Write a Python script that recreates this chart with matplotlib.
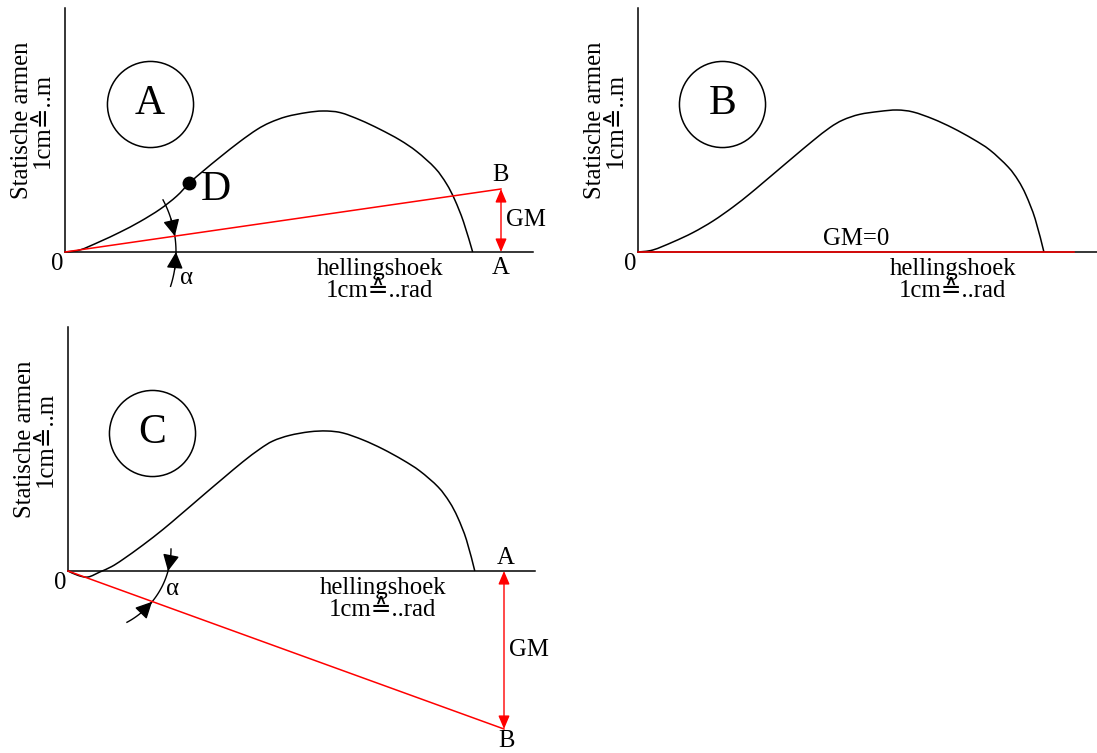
import numpy as np
import matplotlib
matplotlib.use('Agg')
import matplotlib.pyplot as plt
from matplotlib.path import Path
from matplotlib.patches import PathPatch

plt.rcParams['font.family'] = ['Liberation Serif', 'DejaVu Sans']

W, H = 1097, 753
SX, SY = 436.0, 200.0   # pixels per rad (x) and per m (y)
FS = 17.8

# GZ curves: heel angle (rad) and righting arm (m)
phi_a = [0, 0.034, 0.080, 0.126, 0.172, 0.218, 0.256, 0.285, 0.317, 0.356, 0.401, 0.440,
         0.470, 0.508, 0.554, 0.592, 0.631, 0.677, 0.722, 0.768, 0.807, 0.849, 0.875,
         0.894, 0.914, 0.935]
gz_a = [0, 0.01, 0.052, 0.099, 0.152, 0.214, 0.279, 0.344, 0.405, 0.475, 0.552, 0.612,
        0.647, 0.677, 0.697, 0.705, 0.697, 0.66, 0.614, 0.56, 0.502, 0.419, 0.341,
        0.261, 0.151, 0]

phi_b = [0, 0.034, 0.080, 0.126, 0.172, 0.218, 0.256, 0.285, 0.317, 0.356, 0.401, 0.440,
         0.470, 0.508, 0.554, 0.594, 0.631, 0.677, 0.722, 0.768, 0.807, 0.849, 0.872,
         0.890, 0.911, 0.931]
gz_b = [0, 0.01, 0.05, 0.097, 0.155, 0.225, 0.29, 0.343, 0.402, 0.474, 0.556, 0.622,
        0.66, 0.688, 0.703, 0.71, 0.70, 0.665, 0.62, 0.565, 0.51, 0.425, 0.358,
        0.284, 0.165, 0]

phi_c = [0, 0.023, 0.046, 0.073, 0.100, 0.126, 0.172, 0.218, 0.256, 0.285, 0.317, 0.356,
         0.401, 0.440, 0.470, 0.508, 0.554, 0.594, 0.631, 0.677, 0.722, 0.768, 0.807,
         0.849, 0.875, 0.894, 0.914, 0.933]
gz_c = [0, -0.022, -0.03, -0.005, 0.022, 0.058, 0.13, 0.208, 0.278, 0.332, 0.392, 0.464,
        0.546, 0.61, 0.65, 0.678, 0.696, 0.70, 0.69, 0.655, 0.61, 0.555, 0.50,
        0.42, 0.345, 0.267, 0.155, 0]

gm_a, gm_b, gm_c = 0.315, 0.0, -0.79
rad1 = 1.0
d_phi, d_gz = 0.285, 0.344

ylabel_txt = 'Statische armen\n1cm\u2259..m'
xlabel_txt = 'hellingshoek\n1cm\u2259..rad'
y_top = 1.22

fig = plt.figure(figsize=(W / 100, H / 100), dpi=100)


def panel(ox, oy, x0, x1, y0, y1, xend):
    left, right = ox + x0 * SX, ox + x1 * SX
    top, bottom = oy - y1 * SY, oy - y0 * SY
    ax = fig.add_axes([left / W, 1 - bottom / H, (right - left) / W, (bottom - top) / H])
    ax.set_xlim(x0, x1)
    ax.set_ylim(y0, y1)
    ax.patch.set_alpha(0)
    for s in ['top', 'right']:
        ax.spines[s].set_visible(False)
    ax.spines['left'].set_position(('data', 0))
    ax.spines['bottom'].set_position(('data', 0))
    ax.spines['left'].set_bounds(0, y_top)
    ax.spines['bottom'].set_bounds(0, xend)
    for s in ['left', 'bottom']:
        ax.spines[s].set_linewidth(1.1)
    ax.set_xticks([])
    ax.set_yticks([])
    ax.text(-0.075, 0.66, ylabel_txt, rotation=90, ha='center', va='center',
            fontsize=FS, multialignment='center', linespacing=0.95)
    ax.text(-0.017, -0.058, '0', ha='center', va='center', fontsize=FS)
    ax.text(0.722, -0.14, xlabel_txt, ha='center', va='center', fontsize=FS,
            multialignment='center', linespacing=1.0)
    return ax


def gz_curve(ax, x, y):
    # smooth bezier path through the curve points (Catmull-Rom handles)
    p = np.column_stack([x, y])
    n = len(p)
    verts, codes = [p[0]], [Path.MOVETO]
    for i in range(n - 1):
        p0 = p[i - 1] if i > 0 else p[i]
        p3 = p[i + 2] if i + 2 < n else p[i + 1]
        verts += [p[i] + (p[i + 1] - p0) / 6, p[i + 1] - (p3 - p[i]) / 6, p[i + 1]]
        codes += [Path.CURVE4] * 3
    ax.add_patch(PathPatch(Path(verts, codes), fill=False, edgecolor='black', lw=1.1))


def badge(ax, x, y, letter):
    ax.plot(x, y, 'o', ms=62, mfc='none', mec='black', mew=1.1, clip_on=False)
    ax.text(x, y, letter, ha='center', va='center', fontsize=30)


def gm_line(ax, gm, arrows=True):
    ax.plot([0, rad1], [0, gm], color='red', lw=1.1, zorder=5, clip_on=False)
    if arrows:
        ax.annotate('', xy=(rad1, gm), xytext=(rad1, 0),
                    arrowprops=dict(arrowstyle='<|-|>,head_length=0.4,head_width=0.17',
                                    color='red', lw=1.0, shrinkA=0, shrinkB=0,
                                    mutation_scale=20))


def alpha_arc(ax, cx, cy, r, t0, t1, heads):
    # arc of radius r pixels around (cx, cy) in data units, angles in degrees
    t = np.radians(np.linspace(t0, t1, 60))
    ax.plot(cx + r / SX * np.cos(t), cy + r / SY * np.sin(t), color='black', lw=1.0,
            clip_on=False)
    for tip, tail in heads:
        a, b = np.radians(tip), np.radians(tail)
        ax.annotate('', xy=(cx + r / SX * np.cos(a), cy + r / SY * np.sin(a)),
                    xytext=(cx + r / SX * np.cos(b), cy + r / SY * np.sin(b)),
                    arrowprops=dict(arrowstyle='-|>,head_length=0.5,head_width=0.25',
                                    color='black', lw=1.0, shrinkA=0, shrinkB=0,
                                    mutation_scale=20))


# A: positive GM
axA = panel(65, 252, -0.15, 1.12, -0.25, 1.26, 1.073)
gz_curve(axA, phi_a, gz_a)
gm_line(axA, gm_a)
axA.plot(d_phi, d_gz, 'o', color='black', ms=9, zorder=6)
axA.text(d_phi + 0.062, d_gz - 0.035, 'D', ha='center', va='center', fontsize=30)
axA.text(rad1, gm_a + 0.07, 'B', ha='center', va='center', fontsize=FS)
axA.text(rad1, -0.08, 'A', ha='center', va='center', fontsize=FS)
axA.text(rad1 + 0.012, gm_a / 2, 'GM', ha='left', va='center', fontsize=FS)
red_deg = np.degrees(np.arctan2(gm_a * SY, rad1 * SX))
alpha_arc(axA, 0, 0, 111, 28, -18, [(red_deg, red_deg + 9), (0, -9)])
axA.text(0.278, -0.13, '\u03b1', ha='center', va='center', fontsize=FS)
badge(axA, 0.195, 0.74, 'A')

# B: GM = 0
axB = panel(638, 252, -0.15, 1.053, -0.25, 1.26, 1.053)
gz_curve(axB, phi_b, gz_b)
gm_line(axB, gm_b, arrows=False)
axB.text(0.5, 0.065, 'GM=0', ha='center', va='center', fontsize=FS)
badge(axB, 0.193, 0.74, 'B')

# C: negative GM
axC = panel(68, 571, -0.155, 1.12, -0.91, 1.26, 1.071)
gz_curve(axC, phi_c, gz_c)
gm_line(axC, gm_c)
axC.text(rad1 + 0.005, 0.065, 'A', ha='center', va='center', fontsize=FS)
axC.text(rad1 + 0.005, gm_c - 0.062, 'B', ha='center', va='center', fontsize=FS)
axC.text(rad1 + 0.012, gm_c / 2, 'GM', ha='left', va='center', fontsize=FS)
alpha_arc(axC, 20 / SX, 22 / SY, 83, 0, -62, [(-15.4, -6.5), (-39.5, -49)])
axC.text(0.239, -0.09, '\u03b1', ha='center', va='center', fontsize=FS)
badge(axC, 0.193, 0.69, 'C')

fig.savefig('out.png', dpi=100)
